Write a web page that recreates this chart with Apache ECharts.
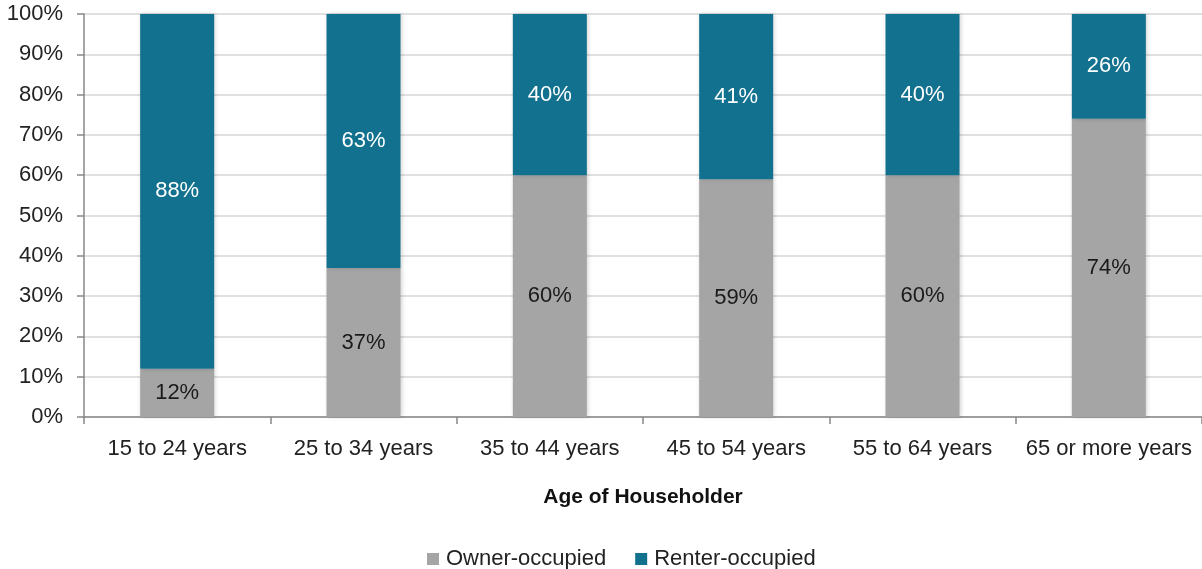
<!DOCTYPE html>
<html>
<head>
<meta charset="utf-8">
<script src="https://cdn.jsdelivr.net/npm/echarts@6/dist/echarts.min.js"></script>
<style>html,body{margin:0;padding:0;background:#fff}#c{width:1202px;height:569px}</style>
</head>
<body>
<div id="c"></div>
<script>
const categories = ["15 to 24 years", "25 to 34 years", "35 to 44 years", "45 to 54 years", "55 to 64 years", "65 or more years"];
const ownerOccupied = [12, 37, 60, 59, 60, 74];
const renterOccupied = [88, 63, 40, 41, 40, 26];
const seriesNames = ["Owner-occupied", "Renter-occupied"];
const axisTitle = "Age of Householder";

const FONT = "Liberation Sans, Arial, sans-serif";
const chart = echarts.init(document.getElementById('c'), null, {renderer: 'canvas'});
const barShadow = {shadowBlur: 4, shadowColor: 'rgba(0,0,0,0.18)', shadowOffsetX: 1, shadowOffsetY: 0};
chart.setOption({
  animation: false,
  textStyle: {fontFamily: FONT},
  grid: {left: 84, right: -5, top: 14, bottom: 152, containLabel: false},
  legend: {
    top: 543, left: 422,
    itemWidth: 12, itemHeight: 12, itemGap: 29, itemStyle: {borderWidth: 0},
    icon: 'rect',
    textStyle: {fontSize: 22, color: '#222', fontFamily: FONT, padding: [0, 0, 0, 2]},
    data: seriesNames
  },
  xAxis: {
    type: 'category', data: categories,
    name: axisTitle, nameLocation: 'middle', nameGap: 70,
    nameTextStyle: {fontSize: 21, fontWeight: 'bold', color: '#111', fontFamily: FONT},
    axisLine: {lineStyle: {color: '#888', width: 1.5}},
    axisTick: {show: true, length: 7, lineStyle: {color: '#888', width: 1.5}, alignWithLabel: false},
    axisLabel: {fontSize: 22, color: '#222', margin: 21, fontFamily: FONT, interval: 0}
  },
  yAxis: {
    type: 'value', min: 0, max: 100, interval: 10,
    axisLine: {show: true, lineStyle: {color: '#888', width: 1.5}},
    axisTick: {show: true, length: 7, lineStyle: {color: '#888', width: 1.5}},
    axisLabel: {fontSize: 22, color: '#222', margin: 21, formatter: '{value}%', fontFamily: FONT, padding: [7, 0, 0, 0]},
    splitLine: {lineStyle: {color: '#d6d6d6', width: 1.5}}
  },
  series: [
    {
      name: seriesNames[0], type: 'bar', stack: 'total', data: ownerOccupied, barWidth: 74,
      itemStyle: Object.assign({color: '#a5a5a5'}, barShadow),
      label: {show: true, position: 'inside', formatter: '{c}%', fontSize: 22, color: '#1a1a1a', fontFamily: FONT}
    },
    {
      name: seriesNames[1], type: 'bar', stack: 'total', data: renterOccupied, barWidth: 74,
      itemStyle: Object.assign({color: '#12718f'}, barShadow),
      label: {show: true, position: 'inside', formatter: '{c}%', fontSize: 22, color: '#ffffff', fontFamily: FONT}
    }
  ]
});
</script>
</body>
</html>
